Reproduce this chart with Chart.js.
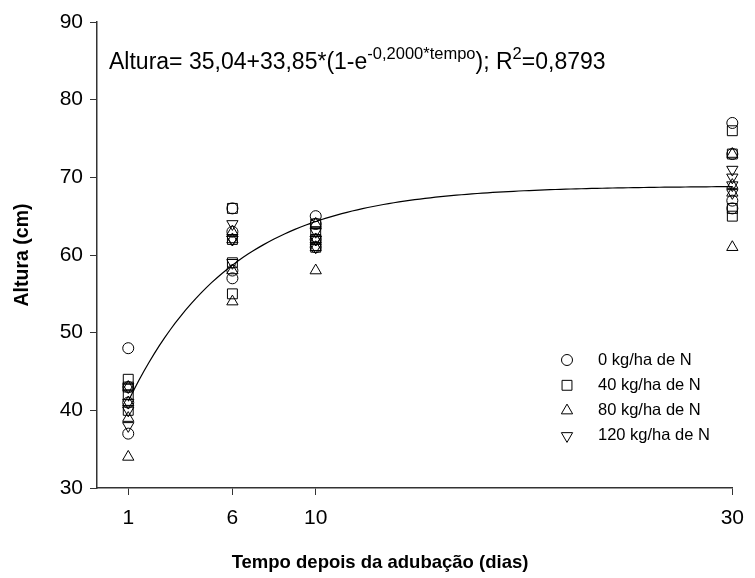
<!DOCTYPE html>
<html lang="pt">
  <head>
    <meta charset="UTF-8">
    <title>Altura x tempo</title>
    <style>
      body { margin: 0; background: #fff; }
      #box { width: 755px; height: 578px; }
    </style>
  </head>
  <body>
    <div id="box"><canvas id="myChart"></canvas></div>
    <script src="https://cdn.jsdelivr.net/npm/chart.js"></script>
    <script>

// tempo (dias) for each reading, 4 repetitions per date
const tempo = [1, 1, 1, 1, 6, 6, 6, 6, 10, 10, 10, 10, 30, 30, 30, 30];
const xTicks = [1, 6, 10, 30];

// altura (cm) per dose of N
const altura0   = [48, 43, 41, 37, 66, 63, 58, 57, 65, 64, 62, 61, 77, 73, 67, 66];
const altura40  = [44, 43, 42, 40, 66, 62, 59, 55, 64, 63, 62, 61, 76, 73, 66, 65];
const altura80  = [43, 41, 39, 34, 63, 62, 58, 54, 64, 62, 61, 58, 73, 69, 68, 61];
const altura120 = [43, 41, 40, 38, 64, 62, 62, 59, 63, 62, 62, 61, 71, 70, 69, 68];

const doses = ['0 kg/ha de N', '40 kg/ha de N', '80 kg/ha de N', '120 kg/ha de N'];

// fitted model: Altura = a + b*(1 - e^(-k*tempo))
const coef = [35.04, 33.85, 0.2000];
const r2 = '0,8793';

const fontFam = "'Liberation Sans', Arial, sans-serif";

function pts(ys) {
  return ys.map((y, i) => ({ x: tempo[i], y: y }));
}

const curve = [];
for (let t = 1; t <= 30; t += 0.25) {
  curve.push({ x: t, y: coef[0] + coef[1] * (1 - Math.exp(-coef[2] * t)) });
}

function markerSet(label, ys, style, r, rot) {
  return {
    type: 'scatter',
    label: label,
    data: pts(ys),
    clip: false,
    pointStyle: style,
    pointRadius: r,
    pointRotation: rot || 0,
    pointBorderWidth: 1,
    borderColor: '#000',
    backgroundColor: 'rgba(0,0,0,0)',
    pointBackgroundColor: 'rgba(0,0,0,0)',
    pointBorderColor: '#000'
  };
}

const series = [
  markerSet(doses[0], altura0, 'circle', 5.5),
  markerSet(doses[1], altura40, 'rect', 7),
  markerSet(doses[2], altura80, 'triangle', 6.5),
  markerSet(doses[3], altura120, 'triangle', 6.5, 180)
];

// equation, legend box and x title drawn on top
const extras = {
  id: 'extras',
  afterDraw(chart) {
    const ctx = chart.ctx;
    ctx.save();
    ctx.fillStyle = '#000';
    ctx.textBaseline = 'middle';
    ctx.textAlign = 'left';

    // equation
    let x = 109, y = 63;
    const big = '23px ' + fontFam, small = '16.5px ' + fontFam;
    const parts = [
      [big, 'Altura= 35,04+33,85*(1-e', 0],
      [small, '-0,2000*tempo', -9],
      [big, '); R', 0],
      [small, '2', -9],
      [big, '=' + r2, 0]
    ];
    parts.forEach(p => {
      ctx.font = p[0];
      ctx.fillText(p[1], x, y + p[2]);
      x += ctx.measureText(p[1]).width;
    });

    // legend
    ctx.font = '16.5px ' + fontFam;
    series.forEach((ds, i) => {
      const ly = 360 + i * 25.3;
      ctx.strokeStyle = '#000';
      ctx.fillStyle = 'rgba(0,0,0,0)';
      ctx.lineWidth = 1;
      Chart.helpers.drawPoint(ctx, {
        pointStyle: ds.pointStyle,
        radius: ds.pointRadius,
        rotation: ds.pointRotation,
        borderWidth: 1
      }, 567, ly);
      ctx.fillStyle = '#000';
      ctx.fillText(ds.label, 598, ly);
    });

    // x axis title
    ctx.font = 'bold 18.5px ' + fontFam;
    ctx.textAlign = 'center';
    ctx.fillText('Tempo depois da adubação (dias)', 380, 563);
    ctx.restore();
  }
};

const config = {
  data: {
    datasets: [
      {
        type: 'line',
        label: 'ajuste',
        data: curve,
        borderColor: '#000',
        borderWidth: 1.2,
        pointRadius: 0,
        fill: false,
        tension: 0
      }
    ].concat(series)
  },
  options: {
    responsive: true,
    maintainAspectRatio: false,
    animation: false,
    layout: { padding: { top: 22, right: 13, left: 0, bottom: 0 } },
    plugins: {
      legend: { display: false },
      tooltip: { enabled: false }
    },
    scales: {
      x: {
        type: 'linear',
        min: -0.5,
        max: 30,
        afterFit(scale) { scale.height = 90; },
        afterBuildTicks(scale) { scale.ticks = xTicks.map(v => ({ value: v })); },
        grid: { drawOnChartArea: false, drawTicks: true, tickLength: 7, color: '#333' },
        border: { color: '#333', width: 1.5 },
        ticks: {
          color: '#000',
          padding: 11,
          maxRotation: 0,
          font: { family: fontFam, size: 21 }
        }
      },
      y: {
        min: 30,
        max: 90,
        afterFit(scale) { scale.width = 97; },
        grid: { drawOnChartArea: false, drawTicks: true, tickLength: 7, color: '#333' },
        border: { color: '#333', width: 1.5 },
        ticks: {
          stepSize: 10,
          color: '#000',
          padding: 7,
          font: { family: fontFam, size: 21 }
        },
        title: {
          display: true,
          text: 'Altura (cm)',
          color: '#000',
          padding: { top: 11, bottom: 0 },
          font: { family: fontFam, size: 19.5, weight: 'bold' }
        }
      }
    }
  },
  plugins: [extras]
};

const myChart = new Chart(document.getElementById('myChart'), config);

    </script>
  </body>
</html>
